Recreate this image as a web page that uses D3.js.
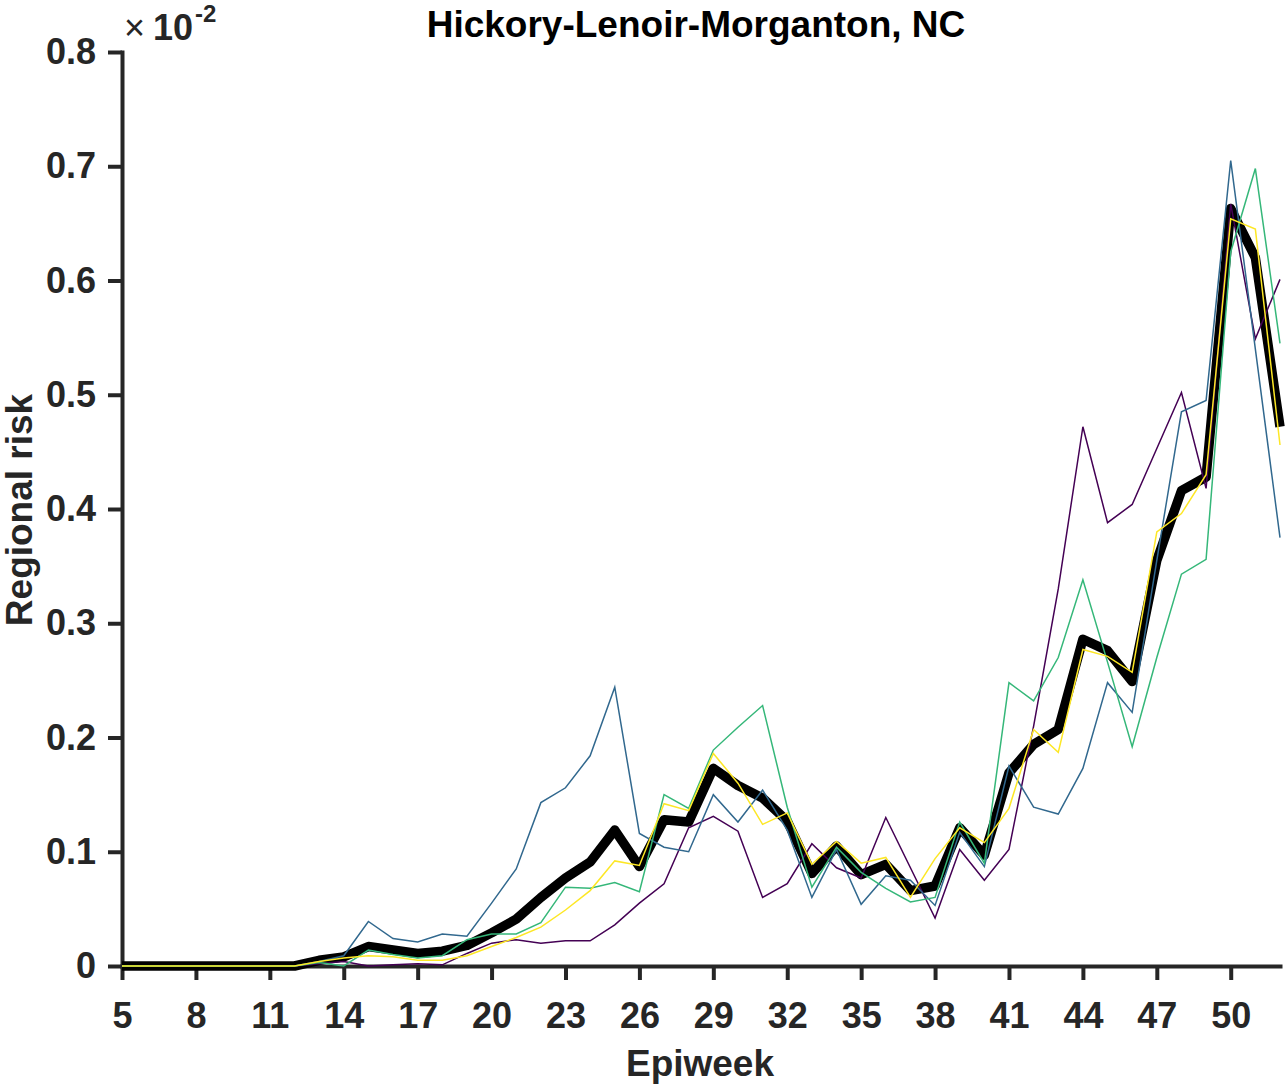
<!DOCTYPE html>
<html>
<head>
<meta charset="utf-8">
<script src="https://cdn.jsdelivr.net/npm/d3@7"></script>
<style>
  html, body { margin: 0; padding: 0; background: #fff; }
  svg { display: block; }
  text { font-family: "Liberation Sans", Arial, Helvetica, sans-serif; }
</style>
</head>
<body>
<svg id="chart" width="1288" height="1086"></svg>
<script>
// ---- Data (values in units of 1e-2) ----
const weeks = d3.range(5, 53); // epiweeks 5..52
const xTickValues = [5, 8, 11, 14, 17, 20, 23, 26, 29, 32, 35, 38, 41, 44, 47, 50];
const yTickValues = [0, 0.1, 0.2, 0.3, 0.4, 0.5, 0.6, 0.7, 0.8];
const titleText = "Hickory-Lenoir-Morganton, NC";
const xLabelText = "Epiweek";
const yLabelText = "Regional risk";

const meanRisk = [0, 0, 0, 0, 0, 0, 0, 0,
  0.005, 0.008, 0.017, 0.014, 0.011, 0.013, 0.018, 0.029, 0.041, 0.060,
  0.077, 0.091, 0.119, 0.087, 0.128, 0.126, 0.173, 0.158, 0.147, 0.127,
  0.081, 0.105, 0.080, 0.089, 0.066, 0.070, 0.121, 0.097, 0.169, 0.194,
  0.207, 0.286, 0.276, 0.249, 0.355, 0.416, 0.428, 0.663, 0.620, 0.472];

const seriesPurple = [0, 0, 0, 0, 0, 0, 0, 0,
  0.002, 0.004, 0.000, 0.001, 0.002, 0.001, 0.011, 0.020, 0.023, 0.020,
  0.022, 0.022, 0.036, 0.055, 0.072, 0.121, 0.131, 0.118, 0.060, 0.072,
  0.107, 0.086, 0.077, 0.130, 0.086, 0.042, 0.102, 0.075, 0.102, 0.210,
  0.330, 0.472, 0.388, 0.404, 0.453, 0.502, 0.418, 0.667, 0.549, 0.601];

const seriesBlue = [0, 0, 0, 0, 0, 0, 0, 0,
  0.004, 0.009, 0.039, 0.024, 0.021, 0.028, 0.026, 0.055, 0.085, 0.143,
  0.156, 0.184, 0.244, 0.116, 0.104, 0.100, 0.150, 0.126, 0.154, 0.119,
  0.060, 0.102, 0.054, 0.079, 0.075, 0.053, 0.117, 0.087, 0.175, 0.139,
  0.133, 0.173, 0.248, 0.222, 0.355, 0.485, 0.495, 0.705, 0.540, 0.375];

const seriesGreen = [0, 0, 0, 0, 0, 0, 0, 0,
  0.003, 0.000, 0.014, 0.010, 0.007, 0.009, 0.023, 0.028, 0.028, 0.038,
  0.069, 0.068, 0.073, 0.065, 0.150, 0.138, 0.189, 0.209, 0.228, 0.139,
  0.069, 0.104, 0.082, 0.068, 0.056, 0.060, 0.126, 0.090, 0.248, 0.232,
  0.270, 0.338, 0.266, 0.192, 0.270, 0.343, 0.356, 0.625, 0.698, 0.545];

const seriesYellow = [0, 0, 0, 0, 0, 0, 0, 0,
  0.004, 0.007, 0.009, 0.008, 0.005, 0.005, 0.009, 0.017, 0.025, 0.034,
  0.049, 0.066, 0.092, 0.088, 0.142, 0.136, 0.186, 0.160, 0.124, 0.134,
  0.089, 0.109, 0.090, 0.095, 0.060, 0.094, 0.121, 0.108, 0.138, 0.207,
  0.187, 0.277, 0.271, 0.257, 0.380, 0.396, 0.430, 0.654, 0.645, 0.456];

const seriesColors = ["#440154", "#31688e", "#35b779", "#fde725"];
const thinSeries = [seriesPurple, seriesBlue, seriesGreen, seriesYellow];

(function draw() {
  const svg = d3.select("#chart");
  const plotLeft = 122, plotRight = 1280, plotTop = 52, plotBottom = 966;
  const axisColor = "#262626";

  const x = d3.scaleLinear().domain([5, 52]).range([plotLeft, plotRight]);
  const y = d3.scaleLinear().domain([0, 0.8]).range([plotBottom, plotTop]);

  svg.append("rect").attr("width", 1288).attr("height", 1086).attr("fill", "#fff");

  const xAxis = d3.axisBottom(x).tickValues(xTickValues).tickSizeInner(14).tickSizeOuter(0)
    .tickPadding(22).tickFormat(d3.format("d"));
  const gx = svg.append("g").attr("transform", `translate(0,${plotBottom})`).call(xAxis);

  const yAxis = d3.axisLeft(y).tickValues(yTickValues).tickSizeInner(14).tickSizeOuter(0)
    .tickPadding(12).tickFormat(d => d === 0 ? "0" : d3.format(".1f")(d));
  const gy = svg.append("g").attr("transform", `translate(${plotLeft},0)`).call(yAxis);

  [gx, gy].forEach(g => {
    g.select(".domain").attr("stroke", axisColor).attr("stroke-width", 4).attr("stroke-linecap", "square");
    g.selectAll(".tick line").attr("stroke", axisColor).attr("stroke-width", 4);
    g.selectAll(".tick text").attr("fill", axisColor)
      .style("font-size", "36px").style("font-weight", "bold")
      .style("font-family", "'Liberation Sans', Arial, sans-serif");
  });

  const line = d3.line().x((d, i) => x(weeks[i])).y(d => y(d));

  svg.append("path").datum(meanRisk)
    .attr("d", line).attr("fill", "none").attr("stroke", "#000")
    .attr("stroke-width", 9.5).attr("stroke-linejoin", "round").attr("stroke-linecap", "butt");

  thinSeries.forEach((vals, k) => {
    svg.append("path").datum(vals)
      .attr("d", line).attr("fill", "none").attr("stroke", seriesColors[k])
      .attr("stroke-width", 1.5).attr("stroke-linejoin", "miter");
  });

  svg.append("text").attr("x", 696).attr("y", 37).attr("text-anchor", "middle")
    .attr("fill", "#000").style("font-size", "37px").style("font-weight", "bold")
    .text(titleText);

  const expo = svg.append("text").attr("x", 124).attr("y", 40).attr("fill", axisColor);
  expo.append("tspan").style("font-size", "36px").style("font-weight", "normal").text("\u00d7");
  expo.append("tspan").attr("dx", 8).style("font-size", "36px").style("font-weight", "bold").text("10");
  expo.append("tspan").attr("dy", -18).attr("dx", 2).style("font-size", "24px").style("font-weight", "bold").text("-2");

  svg.append("text").attr("x", 700).attr("y", 1076).attr("text-anchor", "middle")
    .attr("fill", axisColor).style("font-size", "37px").style("font-weight", "bold")
    .text(xLabelText);

  svg.append("text").attr("transform", "translate(32,510) rotate(-90)").attr("text-anchor", "middle")
    .attr("fill", axisColor).style("font-size", "37px").style("font-weight", "bold")
    .text(yLabelText);
})();
</script>
</body>
</html>
